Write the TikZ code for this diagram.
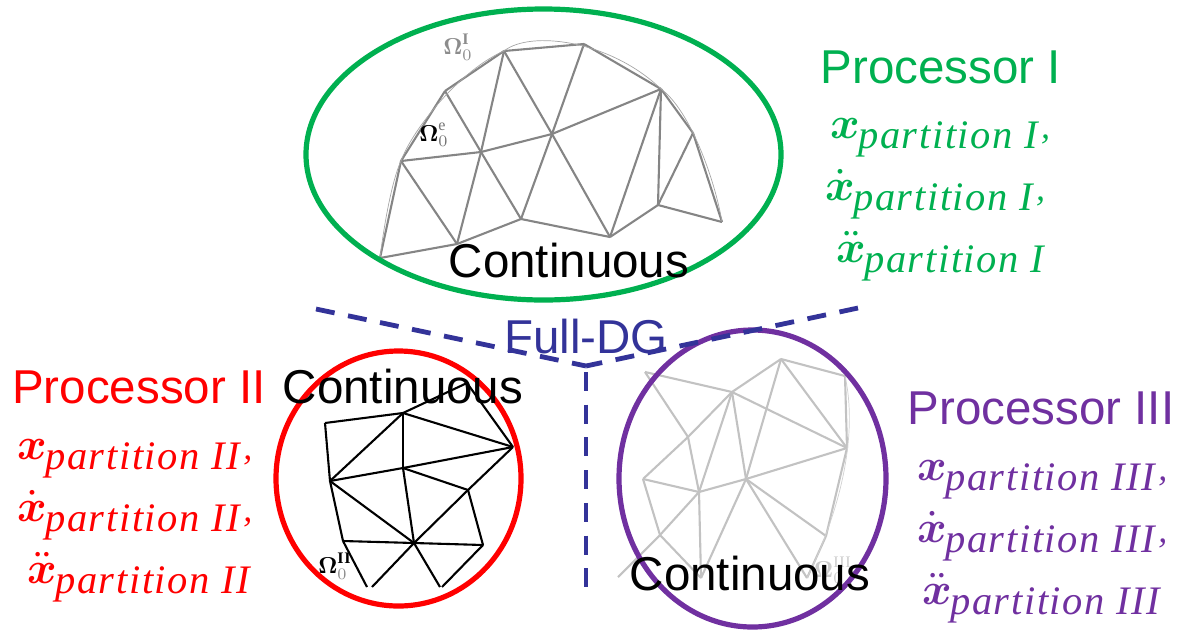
\documentclass[tikz,border=0pt]{standalone}
\usepackage{amsmath}
\usepackage{graphicx}
\usepackage{fontspec}
\usetikzlibrary{shapes.geometric}
\setmainfont{Liberation Sans}
\newfontfamily\subf[LetterSpace=4]{Liberation Serif}
\definecolor{cgreen}{HTML}{00B050}
\definecolor{cred}{HTML}{FF0000}
\definecolor{cpurple}{HTML}{7030A0}
\definecolor{cdash}{HTML}{333399}
\definecolor{cfull}{HTML}{333399}
\newcommand{\sublab}[1]{\raisebox{-10pt}{\fontsize{40.5}{40.5}\selectfont\subf\itshape partition #1}}
\newcommand{\basex}[1]{\makebox[28pt][l]{\scalebox{4.5}{$#1$}}}
\newcommand{\xone}[1]{\basex{\boldsymbol{x}}\sublab{#1}}
\newcommand{\xtwo}[1]{\basex{\dot{\boldsymbol{x}}}\sublab{#1}}
\newcommand{\xthree}[1]{\basex{\ddot{\boldsymbol{x}}}\sublab{#1}}
\newcommand{\cma}{\kern3pt{\fontsize{36}{36}\selectfont\subf\itshape ,}}
\newcommand{\omsup}[1]{\text{\subf\bfseries #1}}
\newcommand{\oml}[2]{\scalebox{2.3}{$\boldsymbol{\Omega}^{#1}_{#2}$}}
\tikzset{
  ring/.style={ellipse,draw,line width=5.2pt,inner sep=0pt,outer sep=0pt},
  bigtext/.style={font=\fontsize{47.5}{47.5}\selectfont,inner sep=0pt,anchor=center},
  mathtext/.style={inner sep=0pt,anchor=base west},
  fulldash/.style={color=cdash,line width=4.8pt,dash pattern=on 19pt off 13.7pt},
  meshI/.style={color=black!48,line width=2.1pt,line join=round},
  meshII/.style={color=black,line width=2.1pt,line join=round},
  meshIII/.style={color=black!24,line width=2.1pt,line join=round},
  om/.style={inner sep=0pt,anchor=center},
}
\begin{document}
\begin{tikzpicture}[x=1pt,y=-1pt]
\useasboundingbox (0,0) rectangle (1177,630);
% mesh I
\foreach \n/\x/\y in {a/380/258,b/401/161,c/445/91,d/504/51,e/584/44,f/661/89,g/693/133,h/722/222,i/658/205,j/610/237,k/521/219,l/457/244,m/481/152,n/552/134}
  \coordinate (p\n) at (\x,\y);
\foreach \u/\v in {a/b,a/l,b/c,c/d,d/e,e/f,f/g,g/h,h/i,i/j,j/k,k/l,l/b,l/m,b/m,c/m,m/d,d/n,e/n,m/n,n/f,m/k,k/n,n/j,j/f,f/i,i/g}
  \draw[meshI] (p\u) -- (p\v);
\draw[color=black!35,line width=.7pt] (pa) .. controls (384,225) and (392,180) .. (pb) .. controls (412,130) and (460,70) .. (pd) .. controls (530,30) and (610,40) .. (pf) .. controls (690,110) and (715,180) .. (ph);
% mesh II
\foreach \n/\x/\y in {A/325/423,B/403/413,C/513/447,D/403/468,E/330/481,F/468/490,G/483/545,H/414/543,I/343/541,J/367/587,K/372/587,L/440/587,M/442/587,T/467/383}
  \coordinate (q\n) at (\x,\y);
\foreach \u/\v in {A/B,A/E,B/E,B/D,B/C,B/T,T/C,C/D,D/E,D/F,D/H,F/C,F/H,F/G,G/H,H/E,H/I,E/I,I/J,H/K,H/L,G/M}
  \draw[meshII] (q\u) -- (q\v);
% mesh III
\foreach \n/\x/\y in {a/645/372,b/732/392,c/781/359,d/845/376,e/847/448,f/746/479,g/699/492,h/688/437,i/643/479,j/660/535,k/618/577,l/701/578,m/826/536,n/807/578}
  \coordinate (r\n) at (\x,\y);
\foreach \u/\v in {a/b,a/h,b/c,c/d,d/e,c/e,b/e,e/f,f/g,g/i,i/h,h/b,h/g,g/b,b/f,c/f,i/j,j/k,j/l,g/j,g/l,f/l,f/n,f/m,m/e,m/n}
  \draw[meshIII] (r\u) -- (r\v);
\draw[color=black!18,line width=.7pt] (rd) .. controls (855,420) and (850,490) .. (rn);
% omega labels
\node[om,color=black!45] (omI) at (458,47) {\oml{\omsup{I}}{0}};
\node[om] (ome) at (434,135) {\oml{\textcolor{black!55}{\text{\subf e}}}{\textcolor{black!55}{0}}};
\node[om] (omII) at (335,566) {\oml{\omsup{II}}{\textcolor{black!45}{0}}};
\node[om,color=black!20] (omIII) at (833,570) {\oml{\text{\subf III}}{0}};
% ellipses
\node[ring,draw=cgreen,minimum width=475pt,minimum height=291pt] (ringI) at (543.5,154.5) {};
\node[ring,draw=cred,minimum width=245pt,minimum height=255pt] (ringII) at (398.5,478.5) {};
\node[ring,draw=cpurple,minimum width=267pt,minimum height=297pt] (ringIII) at (752.5,478.5) {};
% dashed partition lines
\coordinate (dl) at (316,309);
\coordinate (dc) at (586,366);
\coordinate (dr) at (858,308);
\coordinate (dv) at (586,372);
\coordinate (db) at (586,587);
\draw[fulldash] (dl) -- (dc);
\draw[fulldash] (dr) -- (dc);
\draw[fulldash] (dv) -- (db);
% texts
\node[bigtext,color=cfull] (fulldg) at (586,337) {Full-DG};
\node[bigtext] (contI) at (569,261) {Continuous};
\node[bigtext] (contII) at (403,387) {Continuous};
\node[bigtext] (contIII) at (750,574) {Continuous};
\node[bigtext,color=cgreen] (procI) at (941,67) {Processor I};
\node[bigtext,color=cred] (procII) at (139,387) {Processor II};
\node[bigtext,color=cpurple] (procIII) at (1041,408) {Processor III};
\node[mathtext,color=cgreen] (xaI) at (830,138) {\xone{I}\cma};
\node[mathtext,color=cgreen] (xbI) at (825,200) {\xtwo{I}\cma};
\node[mathtext,color=cgreen] (xcI) at (836,262) {\xthree{I}};
\node[mathtext,color=cred] (xaII) at (17,459) {\xone{II}\cma};
\node[mathtext,color=cred] (xbII) at (17,521) {\xtwo{II}\cma};
\node[mathtext,color=cred] (xcII) at (27,583) {\xthree{II}};
\node[mathtext,color=cpurple] (xaIII) at (917,480) {\xone{III}\cma};
\node[mathtext,color=cpurple] (xbIII) at (917,542) {\xtwo{III}\cma};
\node[mathtext,color=cpurple] (xcIII) at (922,604) {\xthree{III}};
\end{tikzpicture}
\end{document}
